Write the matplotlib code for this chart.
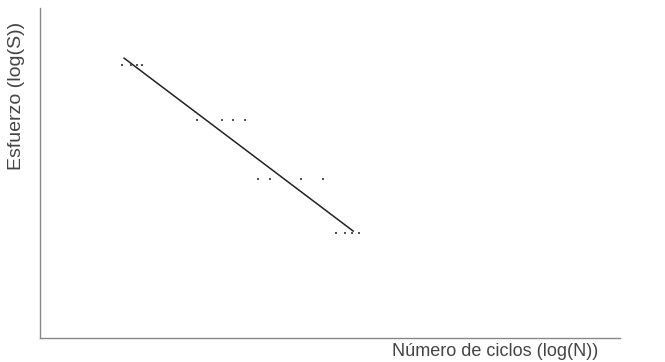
import matplotlib
matplotlib.use("Agg")
import matplotlib.pyplot as plt

# Ciclos de fatiga: log(N) y log(S) de cada ensayo
log_n = [1.41, 1.57, 1.67, 1.76,
         2.71, 3.14, 3.33, 3.53,
         3.76, 3.97, 4.50, 4.88,
         5.10, 5.26, 5.38, 5.50]
log_s = [8.27, 8.27, 8.27, 8.27,
         6.61, 6.61, 6.61, 6.61,
         4.82, 4.82, 4.82, 4.82,
         3.18, 3.18, 3.18, 3.18]

# Recta de ajuste (extremos en log N, log S)
fit_n = [1.45, 5.40]
fit_s = [8.48, 3.24]

W, H = 665, 362
fig = plt.figure(figsize=(W / 100, H / 100), dpi=100)
ax = fig.add_axes([40 / W, 24 / H, 580 / W, 330 / H])
ax.set_xlim(0, 10)
ax.set_ylim(0, 10)

ax.scatter(log_n, log_s, s=2, marker="s", color="#555555", linewidths=0, zorder=3)
ax.plot(fit_n, fit_s, color="#222222", lw=1.1, zorder=2)

for side in ("top", "right"):
    ax.spines[side].set_visible(False)
for side in ("left", "bottom"):
    ax.spines[side].set_color("#888888")
    ax.spines[side].set_linewidth(1.0)
ax.set_xticks([])
ax.set_yticks([])

fig.text(598 / W, 1 - 352 / H, "Número de ciclos (log(N))", ha="right", va="center",
         fontsize=13, color="#444444", family="Liberation Sans")
fig.text(17 / W, 1 - 96 / H, "Esfuerzo (log(S))", ha="center", va="center",
         rotation=90, fontsize=14, color="#444444", family="Liberation Sans")

fig.savefig("out.png", dpi=100)
